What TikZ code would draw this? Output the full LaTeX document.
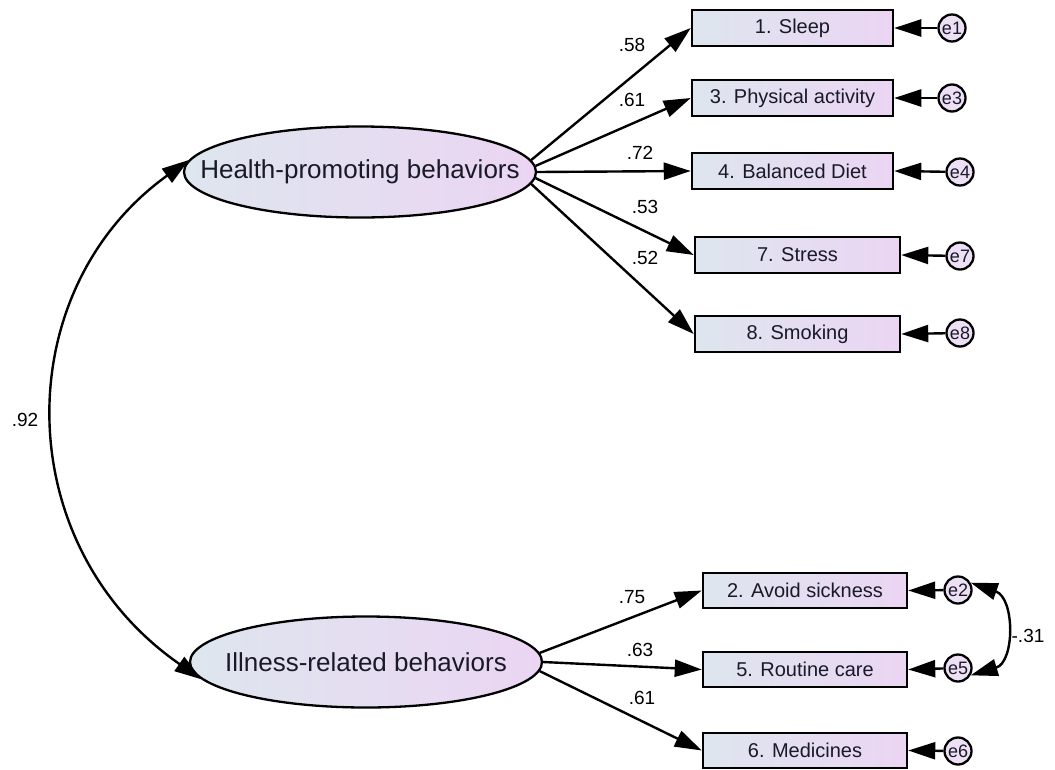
\documentclass[tikz,border=0pt]{standalone}
\usepackage{fontspec}
\setmainfont{Liberation Sans}
\usetikzlibrary{arrows.meta,shapes.geometric}
\definecolor{gL}{RGB}{222,230,238}
\definecolor{gR}{RGB}{235,213,243}
\definecolor{eF}{RGB}{238,224,244}
\definecolor{txt}{RGB}{25,25,40}
\begin{document}
\begin{tikzpicture}[x=1pt,y=-1pt,
  latent/.style={ellipse,draw,line width=2.3pt,left color=gL,right color=gR,inner sep=0pt,minimum width=352,minimum height=91},
  ltext/.style={text=txt,font=\fontsize{26}{30}\selectfont,inner sep=0pt},
  obs/.style={rectangle,draw,line width=2.5pt,left color=gL,right color=gR,inner sep=0pt,minimum height=36,text=txt,font=\fontsize{20}{24}\selectfont},
  err/.style={circle,draw,line width=2.3pt,fill=eF,inner sep=0pt,minimum size=27,text=txt,font=\fontsize{18}{20}\selectfont},
  arr/.style={line width=2.4pt,-{Triangle[length=27pt,width=17pt]}},
  darr/.style={line width=2.4pt,{Triangle[length=27pt,width=17pt]}-{Triangle[length=27pt,width=17pt]}},
  lab/.style={font=\fontsize{19}{22}\selectfont,inner sep=0pt}]
\useasboundingbox (0,0) rectangle (1055,769);
% latent variables
\node[latent] (hp) at (360,172) {};
\node[ltext] (hpt) at (hp.center) {Health-promoting behaviors};
\node[latent] (ir) at (366,662) {};
\node[ltext] (irt) at (ir.center) {Illness-related behaviors};
% observed
\node[obs,minimum width=201] (b1) at (792.5,28) {1. Sleep};
\node[obs,minimum width=201] (b3) at (792.5,98) {3. Physical activity};
\node[obs,minimum width=201] (b4) at (792.5,171) {4. Balanced Diet};
\node[obs,minimum width=205] (b7) at (797.5,255) {7. Stress};
\node[obs,minimum width=205] (b8) at (797.5,334) {8. Smoking};
\node[obs,minimum width=204,minimum height=35] (b2) at (805,590.5) {2. Avoid sickness};
\node[obs,minimum width=204,minimum height=35] (b5) at (805,669.5) {5. Routine care};
\node[obs,minimum width=204,minimum height=35] (b6) at (805,750.5) {6. Medicines};
% errors
\node[err] (e1) at (952,28) {e1};
\node[err] (e3) at (952,98) {e3};
\node[err] (e4) at (960,172) {e4};
\node[err] (e7) at (960,256) {e7};
\node[err] (e8) at (960,333) {e8};
\node[err] (e2) at (958,590) {e2};
\node[err] (e5) at (958,668) {e5};
\node[err] (e6) at (958,751) {e6};
% loadings
\draw[arr] (hp.4.5) -- (b1.west);
\draw[arr] (hp.2.5) -- (b3.west);
\draw[arr] (hp.0) -- (b4.west);
\draw[arr] (hp.-2.5) -- (b7.west);
\draw[arr] (hp.-4.5) -- (b8.west);
\draw[arr] (ir.3) -- (b2.west);
\draw[arr] (ir.0) -- (b5.west);
\draw[arr] (ir.-3) -- (b6.west);
% error arrows
\foreach \e/\b in {e1/b1,e3/b3,e4/b4,e7/b7,e8/b8,e2/b2,e5/b5,e6/b6}
  \draw[arr] (\e) -- (\b.east);
% correlations
\draw[darr] (hp.176) .. controls (8,290) and (8,545) .. (ir.186);
\draw[darr] (e2.30) .. controls (1015,598) and (1015,662) .. (e5.-30);
% labels
\node[lab] (l1) at (632,45) {.58};
\node[lab] (l3) at (632,100) {.61};
\node[lab] (l4) at (640,153) {.72};
\node[lab] (l7) at (645,207) {.53};
\node[lab] (l8) at (645,258) {.52};
\node[lab] (l2) at (632,597) {.75};
\node[lab] (l5) at (640,650) {.63};
\node[lab] (l6) at (642,698) {.61};
\node[lab] (lc) at (25,420) {.92};
\node[lab] (le) at (1028,636) {-.31};
\end{tikzpicture}
\end{document}
